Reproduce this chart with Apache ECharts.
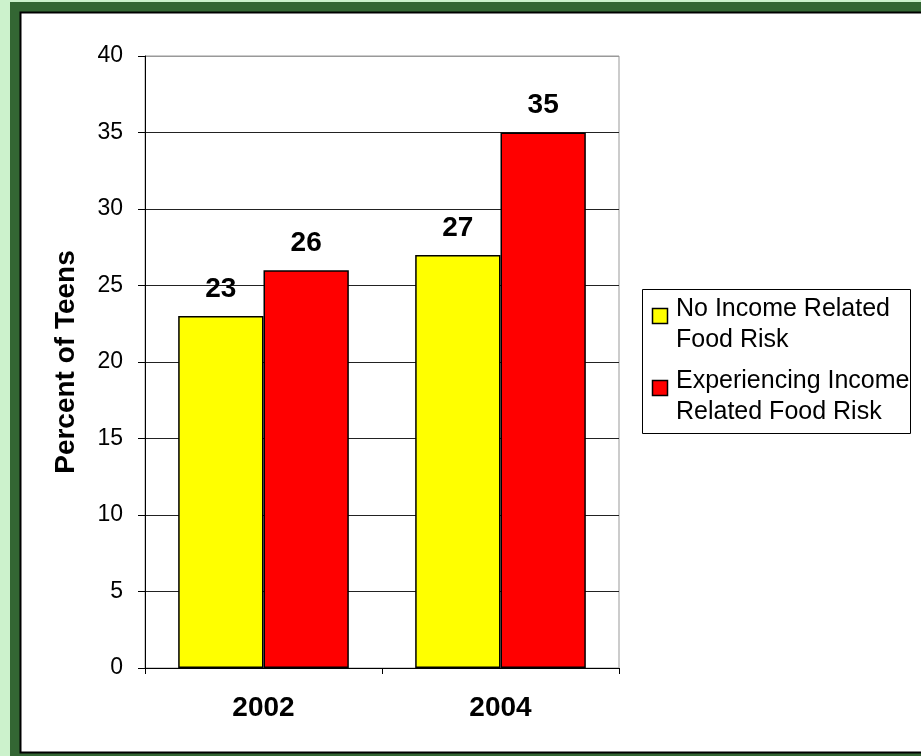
<!DOCTYPE html>
<html>
<head>
<meta charset="utf-8">
<script src="https://cdn.jsdelivr.net/npm/echarts@6/dist/echarts.min.js"></script>
<style>
html,body{margin:0;padding:0;background:#fff;}
#c{width:921px;height:756px;}
</style>
</head>
<body>
<div id="c"></div>
<script>
var categories = ['2002', '2004'];
var seriesNames = ['No Income Related\nFood Risk', 'Experiencing Income\nRelated Food Risk'];
var seriesColors = ['#ffff00', '#ff0000'];
var noRisk = [23, 27];
var withRisk = [26, 35];
var yTicks = [0, 5, 10, 15, 20, 25, 30, 35, 40];

var chart = echarts.init(document.getElementById('c'));
var font = '"Liberation Sans", Arial, sans-serif';
var splitColors = yTicks.map(function (v, i) { return i === yTicks.length - 1 ? '#999999' : '#222222'; });

var legendGraphics = [
  { type: 'rect', z: 10, silent: true, shape: { x: 642.5, y: 289.5, width: 268, height: 144 }, style: { fill: '#ffffff', stroke: '#000000', lineWidth: 1 } }
];
var itemTops = [294, 366];
seriesNames.forEach(function (name, i) {
  legendGraphics.push({ type: 'rect', z: 11, silent: true, shape: { x: 652.5, y: itemTops[i] + 14.5, width: 15, height: 15 }, style: { fill: seriesColors[i], stroke: '#000', lineWidth: 1.5 } });
  legendGraphics.push({ type: 'text', z: 11, silent: true, x: 676, y: itemTops[i], style: { text: name, fontSize: 25, lineHeight: 31, fontFamily: font, fill: '#000', verticalAlign: 'top', align: 'left' } });
});

chart.setOption({
  animation: false,
  textStyle: { fontFamily: font },
  graphic: [
    { type: 'rect', z: -10, silent: true, shape: { x: 0, y: 0, width: 921, height: 756 }, style: { fill: '#ccf2cc' } },
    { type: 'rect', z: -9, silent: true, shape: { x: 10, y: 2, width: 911, height: 754 }, style: { fill: '#336633' } },
    { type: 'rect', z: -8, silent: true, shape: { x: 20.5, y: 12.5, width: 910, height: 740 }, style: { fill: '#ffffff', stroke: '#000000', lineWidth: 2 } }
  ].concat(legendGraphics),
  grid: { left: 145, right: 302, top: 56, bottom: 88, show: true, borderColor: '#999999', borderWidth: 1, backgroundColor: 'transparent' },
  xAxis: {
    type: 'category',
    data: categories,
    axisLine: { lineStyle: { color: '#000', width: 1 } },
    axisTick: { show: true, alignWithLabel: false, length: 6, lineStyle: { color: '#000' } },
    axisLabel: { fontSize: 28, fontWeight: 'bold', color: '#000', margin: 26, fontFamily: font }
  },
  yAxis: {
    type: 'value', min: 0, max: 40, interval: 5,
    name: 'Percent of Teens', nameLocation: 'middle', nameGap: 65,
    nameTextStyle: { fontSize: 28, fontWeight: 'bold', color: '#000', fontFamily: font },
    axisLine: { show: true, lineStyle: { color: '#000', width: 1 } },
    axisTick: { show: true, length: 7, lineStyle: { color: '#000' } },
    axisLabel: { fontSize: 23, color: '#000', margin: 22, fontFamily: font },
    splitLine: { show: true, lineStyle: { color: splitColors, width: 1 } }
  },
  series: [
    {
      name: seriesNames[0], type: 'bar', data: noRisk,
      barGap: '0%', barCategoryGap: '28%',
      itemStyle: { color: seriesColors[0], borderColor: '#000', borderWidth: 1.5 },
      label: { show: true, position: 'top', distance: 13, fontSize: 28, fontWeight: 'bold', color: '#000', fontFamily: font }
    },
    {
      name: seriesNames[1], type: 'bar', data: withRisk,
      barGap: '0%', barCategoryGap: '28%',
      itemStyle: { color: seriesColors[1], borderColor: '#000', borderWidth: 1.5 },
      label: { show: true, position: 'top', distance: 13, fontSize: 28, fontWeight: 'bold', color: '#000', fontFamily: font }
    }
  ]
});
</script>
</body>
</html>
